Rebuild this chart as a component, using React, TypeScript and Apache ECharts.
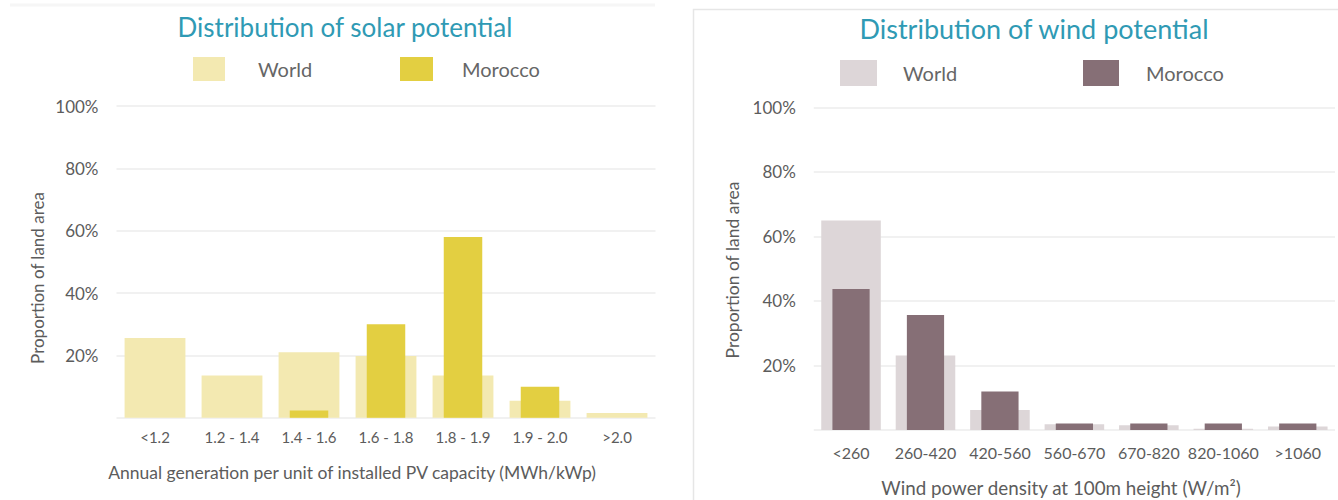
import React, { useEffect, useRef } from "react";
import * as echarts from "echarts";

// Solar: share of land area by annual PV yield class (MWh/kWp)
const solarCategories = ["<1.2", "1.2 - 1.4", "1.4 - 1.6", "1.6 - 1.8", "1.8 - 1.9", "1.9 - 2.0", ">2.0"];
const solarWorld = [25.6, 13.5, 21, 19.8, 13.5, 5.4, 1.5];
const solarMorocco = [0, 0, 2.3, 30, 58, 9.9, 0];

// Wind: share of land area by power density class at 100 m (W/m²)
const windCategories = ["<260", "260-420", "420-560", "560-670", "670-820", "820-1060", ">1060"];
const windWorld = [64.9, 23.1, 6.2, 1.8, 1.5, 0.4, 1.1];
const windMorocco = [43.7, 35.6, 11.9, 2, 2, 2, 2];

// Percentage axis ticks
const yMin = 0;
const yMax = 100;
const yStep = 20;

const FONT = "Lato";
const LABEL_COLOR = "#5c5c5c";
const TITLE_COLOR = "#2f9ab4";
const GRID_LINE = "#ececec";

const COLORS = {
  solarWorld: "#f3e9b1",
  solarMorocco: "#e3cf41",
  windWorld: "#ddd6d8",
  windMorocco: "#866f76",
};

function percentAxis(gridIndex: number) {
  return {
    type: "value" as const,
    gridIndex,
    min: yMin,
    max: yMax,
    interval: yStep,
    axisLine: { show: false },
    axisTick: { show: false },
    axisLabel: {
      margin: 18,
      fontSize: 17,
      fontFamily: FONT,
      color: LABEL_COLOR,
      formatter: (v: number) => (v === 0 ? "" : `${v}%`),
    },
    splitLine: { lineStyle: { color: GRID_LINE, width: 1.5 } },
  };
}

function categoryAxis(gridIndex: number, data: string[], visible: boolean, fontSize: number, margin: number) {
  return {
    type: "category" as const,
    gridIndex,
    data,
    show: visible,
    axisLine: { show: false },
    axisTick: { show: false },
    axisLabel: { margin, fontSize, fontFamily: FONT, color: LABEL_COLOR, interval: 0 },
  };
}

function legendItem(seriesName: string, label: string, left: number, top: number, w: number, h: number, pad: number) {
  return {
    data: [seriesName],
    left,
    top,
    padding: 0,
    itemWidth: w,
    itemHeight: h,
    icon: "rect",
    selectedMode: false,
    formatter: () => label,
    textStyle: { fontSize: 20, fontFamily: FONT, color: "#666666", padding: [0, 0, 0, pad] },
  };
}

export default function App() {
  const ref = useRef<HTMLDivElement>(null);

  useEffect(() => {
    if (!ref.current) return;
    const chart = echarts.init(ref.current, undefined, { renderer: "svg" });

    chart.setOption({
      animation: false,
      backgroundColor: "#ffffff",
      title: [
        {
          text: "Distribution of solar potential",
          left: 345,
          top: 14,
          padding: 0,
          textAlign: "center",
          textStyle: { fontSize: 26, fontWeight: "normal", fontFamily: FONT, color: TITLE_COLOR },
        },
        {
          text: "Distribution of wind potential",
          left: 1034,
          top: 15,
          padding: 0,
          textAlign: "center",
          textStyle: { fontSize: 27, fontWeight: "normal", fontFamily: FONT, color: TITLE_COLOR },
        },
      ],
      legend: [
        legendItem("Solar World", "World", 193, 57, 32, 24, 28),
        legendItem("Solar Morocco", "Morocco", 400, 57, 33, 24, 24),
        legendItem("Wind World", "World", 840, 60, 37, 26, 21),
        legendItem("Wind Morocco", "Morocco", 1083, 60, 36, 26, 22),
      ],
      grid: [
        { left: 116.5, top: 106, width: 539, height: 311.7 },
        { left: 813.8, top: 107.3, width: 521.2, height: 322.7 },
      ],
      xAxis: [
        categoryAxis(0, solarCategories, true, 15, 12),
        categoryAxis(0, solarCategories, false, 15, 12),
        categoryAxis(1, windCategories, true, 16, 14),
        categoryAxis(1, windCategories, false, 16, 14),
      ],
      yAxis: [percentAxis(0), percentAxis(1)],
      series: [
        {
          name: "Solar World",
          type: "bar",
          xAxisIndex: 0,
          yAxisIndex: 0,
          barWidth: "79%",
          itemStyle: { color: COLORS.solarWorld },
          data: solarWorld,
        },
        {
          name: "Solar Morocco",
          type: "bar",
          xAxisIndex: 1,
          yAxisIndex: 0,
          barWidth: "50%",
          itemStyle: { color: COLORS.solarMorocco },
          data: solarMorocco,
        },
        {
          name: "Wind World",
          type: "bar",
          xAxisIndex: 2,
          yAxisIndex: 1,
          barWidth: "80%",
          itemStyle: { color: COLORS.windWorld },
          data: windWorld,
        },
        {
          name: "Wind Morocco",
          type: "bar",
          xAxisIndex: 3,
          yAxisIndex: 1,
          barWidth: "50%",
          itemStyle: { color: COLORS.windMorocco },
          data: windMorocco,
        },
      ],
      graphic: [
        // panel frames
        {
          type: "line",
          shape: { x1: 10, y1: 5, x2: 655, y2: 5 },
          style: { stroke: "#f6f6f6", lineWidth: 3 },
          silent: true,
        },
        {
          type: "polyline",
          shape: { points: [[693.5, 500], [693.5, 9.5], [1338, 9.5]] },
          style: { stroke: "#e6e6e6", lineWidth: 1.5, fill: null },
          silent: true,
        },
        // axis titles
        {
          type: "text",
          x: 37,
          y: 278,
          rotation: Math.PI / 2,
          style: {
            text: "Proportion of land area",
            fontSize: 17,
            fontFamily: FONT,
            fill: LABEL_COLOR,
            align: "center",
            verticalAlign: "middle",
          },
        },
        {
          type: "text",
          x: 732,
          y: 270,
          rotation: Math.PI / 2,
          style: {
            text: "Proportion of land area",
            fontSize: 17.5,
            fontFamily: FONT,
            fill: LABEL_COLOR,
            align: "center",
            verticalAlign: "middle",
          },
        },
        {
          type: "text",
          x: 352,
          y: 472,
          style: {
            text: "Annual generation per unit of installed PV capacity (MWh/kWp)",
            fontSize: 17.5,
            fontFamily: FONT,
            fill: LABEL_COLOR,
            align: "center",
            verticalAlign: "middle",
          },
        },
        {
          type: "text",
          x: 1061,
          y: 487,
          style: {
            text: "Wind power density at 100m height (W/m²)",
            fontSize: 18.8,
            fontFamily: FONT,
            fill: LABEL_COLOR,
            align: "center",
            verticalAlign: "middle",
          },
        },
      ],
    });

    return () => chart.dispose();
  }, []);

  return (
    <div
      ref={ref}
      style={{ position: "fixed", left: 0, top: 0, width: 1338, height: 500, background: "#ffffff" }}
    />
  );
}
